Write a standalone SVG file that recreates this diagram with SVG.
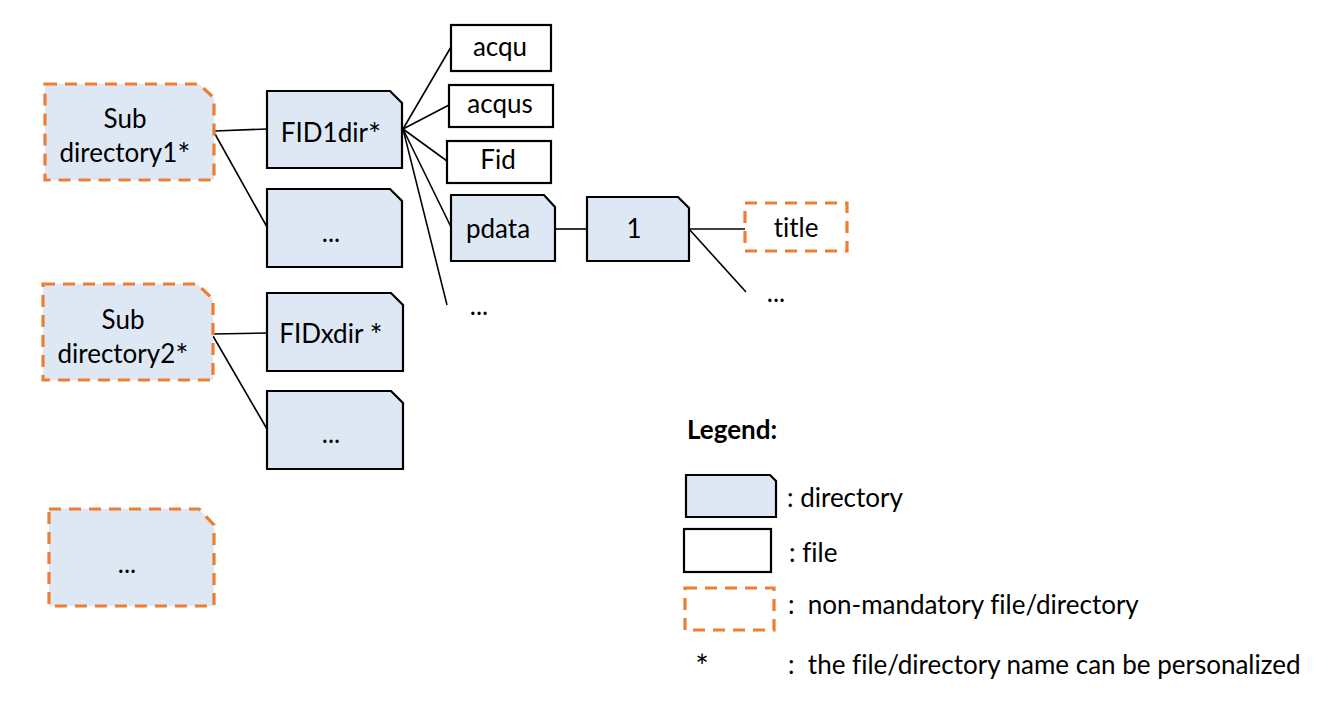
<svg xmlns="http://www.w3.org/2000/svg" width="1344" height="710" viewBox="0 0 1344 710">
<style>
text{font-family:Lato,"Liberation Sans",sans-serif;font-size:26px;fill:#000;text-anchor:middle;white-space:pre;font-variant-ligatures:none}
.l{text-anchor:start}
.b{font-weight:bold}
.s{font-size:31px}
.dir{fill:#DEE8F5;stroke:#000;stroke-width:2.2}
.file{fill:#fff;stroke:#000;stroke-width:2.2}
.opt{fill:#DEE8F5;stroke:#ED7D31;stroke-width:3.2;stroke-dasharray:12 8}
.optf{fill:#fff;stroke:#ED7D31;stroke-width:3.2;stroke-dasharray:12 8}
.c line{stroke:#000;stroke-width:1.6}
</style>
<rect width="1344" height="710" fill="#fff"/>
<g class="c" id="connectors">
<line x1="215" y1="131" x2="267" y2="129"/>
<line x1="215" y1="134" x2="267" y2="227"/>
<line x1="213" y1="334" x2="267" y2="333"/>
<line x1="213" y1="336" x2="267" y2="429"/>
<line x1="403" y1="129" x2="451" y2="47"/>
<line x1="403" y1="129" x2="449" y2="105"/>
<line x1="403" y1="129" x2="447" y2="161"/>
<line x1="403" y1="129" x2="451" y2="227"/>
<line x1="403" y1="129" x2="447" y2="305"/>
<line x1="555" y1="229" x2="587" y2="229"/>
<line x1="689" y1="229" x2="745" y2="229"/>
<line x1="689" y1="229" x2="746" y2="292"/>
</g>
<g id="subdir1"><path class="opt" d="M45,84 H199 L214,98 V180 H45 Z"/><text x="125" y="128">Sub</text><text x="125" y="162">directory1<tspan class="s" dy="3">*</tspan></text></g>
<g id="fid1dir"><path class="dir" d="M267,91 H390 L402,103 V168 H267 Z"/><text x="331" y="142">FID1dir<tspan class="s" dy="3">*</tspan></text></g>
<g id="fid1more"><path class="dir" d="M267,189 H390 L402,201 V267 H267 Z"/><text x="331" y="242">...</text></g>
<g id="subdir2"><path class="opt" d="M43,284 H197 L213,299 V380 H43 Z"/><text x="123" y="329">Sub</text><text x="123" y="363">directory2<tspan class="s" dy="3">*</tspan></text></g>
<g id="fidxdir"><path class="dir" d="M267,293 H391 L403,305 V371 H267 Z"/><text x="331" y="343">FIDxdir <tspan class="s" dy="3">*</tspan></text></g>
<g id="fidxmore"><path class="dir" d="M267,391 H391 L403,403 V469 H267 Z"/><text x="331" y="443">...</text></g>
<g id="submore"><path class="opt" d="M49,509 H199 L214,525 V606 H49 Z"/><text x="127" y="573">...</text></g>
<g id="acqu"><rect class="file" x="451" y="25" width="100" height="46"/><text x="500" y="56">acqu</text></g>
<g id="acqus"><rect class="file" x="449" y="85" width="104" height="42"/><text x="500" y="113">acqus</text></g>
<g id="fid"><rect class="file" x="447" y="141" width="104" height="42"/><text x="498" y="169">Fid</text></g>
<g id="pdata"><path class="dir" d="M451,195 H544 L555,207 V261 H451 Z"/><text x="498" y="238">pdata</text></g>
<g id="fidmore"><text x="479" y="315">...</text></g>
<g id="one"><path class="dir" d="M587,197 H678 L689,208 V261 H587 Z"/><text x="634" y="238">1</text></g>
<g id="title"><rect class="optf" x="745" y="203" width="102" height="48"/><text x="796" y="237">title</text></g>
<g id="onemore"><text x="776" y="302">...</text></g>
<g id="legend">
<text class="l b" x="687" y="439">Legend:</text>
<path class="dir" d="M686,475 H770 L776,481 V517 H686 Z"/><text class="l" x="787" y="507">: directory</text>
<rect class="file" x="684" y="529" width="87" height="43"/><text class="l" x="789" y="562">: file</text>
<rect class="optf" x="685" y="588" width="89" height="42"/><text class="l" x="788" y="614">:  non-mandatory file/directory</text>
<text x="702" y="678" style="font-size:32px">*</text><text class="l" x="788" y="674">:  the file/directory name can be personalized</text>
</g>
</svg>
